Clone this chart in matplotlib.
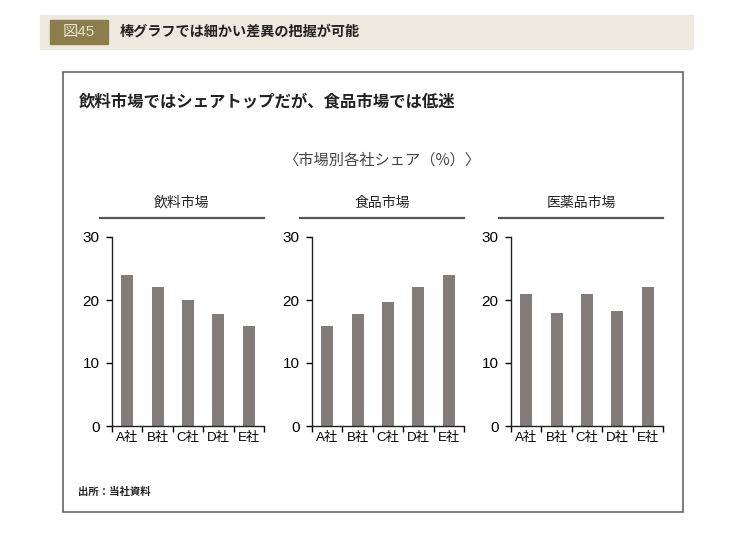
import matplotlib.pyplot as plt
from matplotlib.patches import Rectangle
from matplotlib.lines import Line2D

plt.rcParams['font.family'] = ['Noto Sans CJK JP', 'DejaVu Sans']
latin_first = ['Liberation Sans', 'Noto Sans CJK JP']

companies = ['A社', 'B社', 'C社', 'D社', 'E社']
markets = ['飲料市場', '食品市場', '医薬品市場']
beverage = [24, 22, 20, 17.8, 15.8]
food = [15.8, 17.8, 19.7, 22, 24]
pharma = [21, 18, 21, 18.2, 22]
series = [beverage, food, pharma]
yticks = [0, 10, 20, 30]

W, H = 750, 544
bar_color = '#847c7a'
text_color = '#222222'


def px(x, y, w, h):
    # pixel box (top-left origin) -> figure fraction
    return [x / W, 1 - (y + h) / H, w / W, h / H]


fig = plt.figure(figsize=(7.5, 5.44), dpi=100)

# header band
fig.patches.append(Rectangle((40 / W, 1 - 49 / H), 653 / W, 34 / H,
                             transform=fig.transFigure, color='#ede9de', zorder=0))
fig.patches.append(Rectangle((50 / W, 1 - 44 / H), 58 / W, 24 / H,
                             transform=fig.transFigure, color='#8c7d4c', zorder=1))
fig.text(79 / W, 1 - 32 / H, '図45', color='#e8e2cf', fontsize=11,
         family=latin_first, ha='center', va='center')
fig.text(120 / W, 1 - 32 / H, '棒グラフでは細かい差異の把握が可能', color=text_color,
         fontsize=10.2, fontweight='bold', ha='left', va='center')

# outer frame
fig.patches.append(Rectangle((63 / W, 1 - 512 / H), 620 / W, 440 / H,
                             transform=fig.transFigure, fill=False,
                             edgecolor='#666666', linewidth=1.2, zorder=1))

fig.text(79 / W, 1 - 101 / H, '飲料市場ではシェアトップだが、食品市場では低迷',
         color=text_color, fontsize=11.8, fontweight='bold', ha='left', va='center')
fig.text(382 / W, 1 - 160 / H, '〈市場別各社シェア（%）〉', color='#444444',
         fontsize=11, ha='center', va='center')
fig.text(78 / W, 1 - 492 / H, '出所：当社資料', color=text_color, fontsize=7.5,
         fontweight='bold', ha='left', va='center')

lefts = [112, 312, 511]
for i, (left, name, vals) in enumerate(zip(lefts, markets, series)):
    ax = fig.add_axes(px(left, 237, 152, 189))
    ax.bar(range(len(companies)), vals, width=0.4, color=bar_color)
    ax.set_xlim(-0.5, len(companies) - 0.5)
    ax.set_ylim(0, 30)
    ax.set_yticks(yticks)
    ax.set_yticklabels([str(t) for t in yticks], fontsize=11, family=latin_first)
    ax.set_xticks([k - 0.5 for k in range(len(companies) + 1)])
    ax.set_xticklabels([])
    ax.set_xticks(range(len(companies)), minor=True)
    ax.set_xticklabels(companies, minor=True, fontsize=9.5, family=latin_first)
    ax.tick_params(axis='x', which='major', direction='out', length=4, width=1)
    ax.tick_params(axis='x', which='minor', length=0, pad=4)
    ax.tick_params(axis='y', direction='out', length=4, width=1, pad=5)
    for s in ['top', 'right']:
        ax.spines[s].set_visible(False)
    for s in ['left', 'bottom']:
        ax.spines[s].set_linewidth(1)
        ax.spines[s].set_color('#222222')
    # panel title with underline
    fig.lines.append(Line2D([(left - 12) / W, (left + 152) / W], [1 - 218 / H, 1 - 218 / H],
                            transform=fig.transFigure, color='#555555', linewidth=1.6))
    fig.text((left + 70) / W, 1 - 203 / H, name, color=text_color, fontsize=10,
             ha='center', va='center')

fig.savefig('out.png', dpi=100, facecolor='white')
